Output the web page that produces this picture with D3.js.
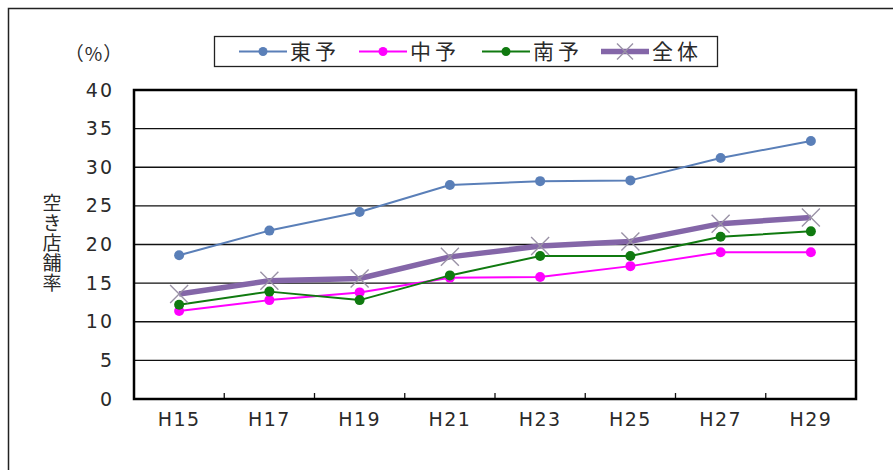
<!DOCTYPE html>
<html>
<head>
<meta charset="utf-8">
<script src="https://cdn.jsdelivr.net/npm/d3@7"></script>
<style>
	body { margin: 0; background: #fff; }
	text { font-family: "DejaVu Sans", "Noto Sans CJK JP", sans-serif; fill: #2a2a2a; }
	.jp { font-family: "Noto Sans CJK JP", sans-serif; }
</style>
</head>
<body>
<div id="chart"></div>
<script>
// ----------------------------------
// DATA
// ----------------------------------
const years = ['H15', 'H17', 'H19', 'H21', 'H23', 'H25', 'H27', 'H29'];
const toyo = [18.6, 21.8, 24.2, 27.7, 28.2, 28.3, 31.2, 33.4];
const chuyo = [11.4, 12.8, 13.8, 15.7, 15.8, 17.2, 19.0, 19.0];
const nanyo = [12.2, 13.9, 12.8, 16.0, 18.5, 18.5, 21.0, 21.7];
const zentai = [13.6, 15.3, 15.6, 18.4, 19.8, 20.4, 22.7, 23.5];
const yTicks = [0, 5, 10, 15, 20, 25, 30, 35, 40];

const series = [
	{ name: '東予', values: toyo, color: '#5a7fb8', width: 2, marker: 'circle' },
	{ name: '中予', values: chuyo, color: '#ff00ff', width: 2, marker: 'circle' },
	{ name: '南予', values: nanyo, color: '#107a10', width: 2, marker: 'circle' },
	{ name: '全体', values: zentai, color: '#8466a8', width: 5.5, marker: 'cross' }
];

const width = 893, height = 470;
const margin = { top: 90, right: 37, bottom: 71, left: 134 };
const innerWidth = width - margin.left - margin.right,
	innerHeight = height - margin.top - margin.bottom;

const svg = d3.select('#chart')
	.append('svg')
	.attr('width', width)
	.attr('height', height);

// outer frame (runs off the right and bottom edges)
svg.append('path')
	.attr('d', `M${width},8.5H8.5V${height}`)
	.attr('fill', 'none')
	.attr('stroke', '#222')
	.attr('stroke-width', 1.5);

const chartInner = svg.append('g')
	.attr('transform', `translate(${margin.left}, ${margin.top})`);

// ----------------------------------
// SCALES
// ----------------------------------
const xScale = d3.scaleBand()
	.domain(years)
	.range([0, innerWidth]);

const yScale = d3.scaleLinear()
	.domain([0, 40])
	.range([innerHeight, 0]);

// gridlines
chartInner.append('g')
	.selectAll('line')
	.data(yTicks.filter(t => t > 0 && t < 40))
	.join('line')
	.attr('x1', 0).attr('x2', innerWidth)
	.attr('y1', d => yScale(d)).attr('y2', d => yScale(d))
	.attr('stroke', '#111')
	.attr('stroke-width', 1.3);

// y axis labels
const yAxis = chartInner.append('g')
	.call(d3.axisLeft(yScale).tickValues(yTicks).tickSize(0).tickPadding(20));
yAxis.select('.domain').remove();
yAxis.selectAll('text')
	.style('font-size', '19px')
	.style('letter-spacing', '2px')
	.attr('fill', '#333');

// x axis labels + ticks between categories
const xAxis = chartInner.append('g')
	.attr('transform', `translate(0, ${innerHeight})`)
	.call(d3.axisBottom(xScale).tickSize(0).tickPadding(14));
xAxis.select('.domain').remove();
xAxis.selectAll('text')
	.style('font-size', '19px')
	.style('letter-spacing', '1.5px')
	.attr('fill', '#333');

chartInner.append('g')
	.selectAll('line')
	.data(years.slice(1))
	.join('line')
	.attr('x1', d => xScale(d)).attr('x2', d => xScale(d))
	.attr('y1', innerHeight).attr('y2', innerHeight - 6)
	.attr('stroke', '#111')
	.attr('stroke-width', 1.3);

// plot area border
chartInner.append('rect')
	.attr('width', innerWidth)
	.attr('height', innerHeight)
	.attr('fill', 'none')
	.attr('stroke', '#000')
	.attr('stroke-width', 2.5);

// ----------------------------------
// LINES
// ----------------------------------
const cx = (d, i) => xScale(years[i]) + xScale.bandwidth() / 2;

function drawMarker(g, s, x, y, size) {
	if (s.marker === 'circle') {
		g.append('circle')
			.attr('cx', x).attr('cy', y).attr('r', size)
			.attr('fill', s.color);
	} else {
		const r = size;
		g.append('path')
			.attr('d', `M${x - r},${y - r}L${x + r},${y + r}M${x - r},${y + r}L${x + r},${y - r}`)
			.attr('stroke', '#9a92a6')
			.attr('stroke-width', 1.4)
			.attr('fill', 'none');
	}
}

series.forEach(s => {
	const line = d3.line()
		.x(cx)
		.y(d => yScale(d));

	chartInner.append('path')
		.datum(s.values)
		.attr('d', line)
		.attr('fill', 'none')
		.attr('stroke', s.color)
		.attr('stroke-width', s.width)
		.attr('stroke-linejoin', 'round');

	const mg = chartInner.append('g');
	s.values.forEach((v, i) => drawMarker(mg, s, cx(v, i), yScale(v), s.marker === 'circle' ? 5 : 9));
});

// ----------------------------------
// LABELS
// ----------------------------------
svg.append('text')
	.attr('class', 'jp')
	.attr('x', 94).attr('y', 61)
	.attr('text-anchor', 'middle')
	.style('font-size', '19px')
	.style('letter-spacing', '1px')
	.attr('fill', '#333')
	.text('（%）');

// vertical axis title, set in vertical writing mode
svg.append('text')
	.attr('class', 'jp')
	.attr('x', 52)
	.attr('y', 193)
	.style('writing-mode', 'vertical-rl')
	.style('text-orientation', 'upright')
	.style('font-size', '19px')
	.style('letter-spacing', '1px')
	.attr('fill', '#333')
	.text('空き店舗率');

// legend
const legend = svg.append('g');
legend.append('rect')
	.attr('x', 214.5).attr('y', 36.5)
	.attr('width', 503).attr('height', 30)
	.attr('fill', '#fff')
	.attr('stroke', '#222')
	.attr('stroke-width', 1.3);

const legendX = [239, 359, 482, 601];
series.forEach((s, i) => {
	const x0 = legendX[i], y0 = 51.5;
	legend.append('line')
		.attr('x1', x0).attr('x2', x0 + 48)
		.attr('y1', y0).attr('y2', y0)
		.attr('stroke', s.color)
		.attr('stroke-width', s.width);
	drawMarker(legend, s, x0 + 24, y0, s.marker === 'circle' ? 4.5 : 8);
	legend.append('text')
		.attr('class', 'jp')
		.attr('x', x0 + 51)
		.attr('y', y0 + 7)
		.style('font-size', '21px')
		.style('letter-spacing', '4px')
		.attr('fill', '#333')
		.text(s.name);
});
</script>
</body>
</html>
